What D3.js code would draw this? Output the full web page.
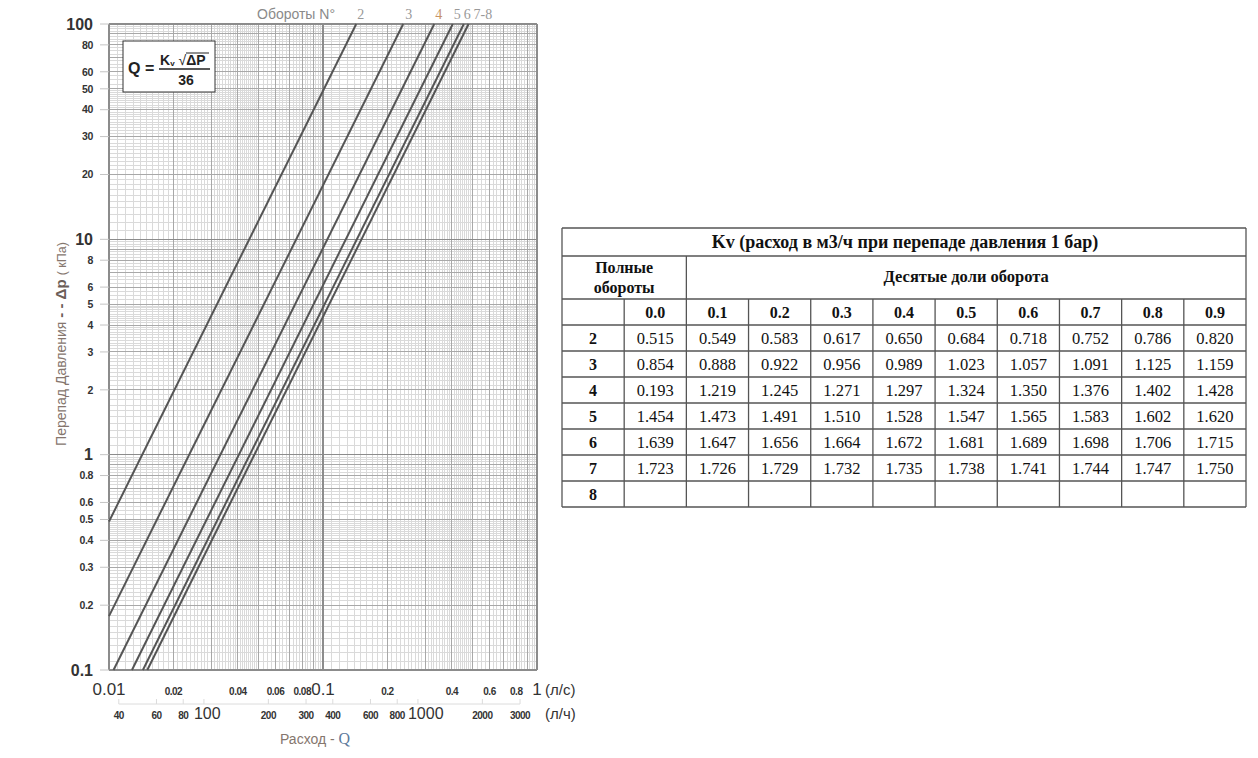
<!DOCTYPE html>
<html>
<head>
<meta charset="utf-8">
<script src="https://cdn.jsdelivr.net/npm/d3@7"></script>
<style>
  body { margin: 0; background: #fff; }
</style>
</head>
<body>
<div id="chart"></div>
<script>
// chart data
var turnLabels = ["2", "3", "4", "5", "6", "7-8"];
// each line: start and end point [Q l/s, dp kPa]
var lineStart = [[0.01, 0.489], [0.01, 0.178], [0.0105, 0.1], [0.0128, 0.1], [0.0144, 0.1], [0.0151, 0.1]];
var lineEnd = [[0.143, 100], [0.237, 100], [0.331, 100], [0.404, 100], [0.455, 100], [0.479, 100]];

var qTicksLs = [0.01, 0.02, 0.04, 0.06, 0.08, 0.1, 0.2, 0.4, 0.6, 0.8, 1];
var qTicksLh = [40, 60, 80, 100, 200, 300, 400, 600, 800, 1000, 2000, 3000];
var dpTicks = [0.1, 0.2, 0.3, 0.4, 0.5, 0.6, 0.8, 1, 2, 3, 4, 5, 6, 8, 10, 20, 30, 40, 50, 60, 80, 100];

// table data
var tableTitle = "Kv (расход в м3/ч при перепаде давления 1 бар)";
var turnRows = ["2", "3", "4", "5", "6", "7", "8"];
var tenthCols = ["0.0", "0.1", "0.2", "0.3", "0.4", "0.5", "0.6", "0.7", "0.8", "0.9"];
var kvRow2 = ["0.515", "0.549", "0.583", "0.617", "0.650", "0.684", "0.718", "0.752", "0.786", "0.820"];
var kvRow3 = ["0.854", "0.888", "0.922", "0.956", "0.989", "1.023", "1.057", "1.091", "1.125", "1.159"];
var kvRow4 = ["0.193", "1.219", "1.245", "1.271", "1.297", "1.324", "1.350", "1.376", "1.402", "1.428"];
var kvRow5 = ["1.454", "1.473", "1.491", "1.510", "1.528", "1.547", "1.565", "1.583", "1.602", "1.620"];
var kvRow6 = ["1.639", "1.647", "1.656", "1.664", "1.672", "1.681", "1.689", "1.698", "1.706", "1.715"];
var kvRow7 = ["1.723", "1.726", "1.729", "1.732", "1.735", "1.738", "1.741", "1.744", "1.747", "1.750"];
var kvRow8 = ["", "", "", "", "", "", "", "", "", ""];

var W = 1258, H = 758;
var sans = "'Liberation Sans', Arial, sans-serif";
var serif = "'Liberation Serif', 'Times New Roman', serif";

var svg = d3.select('#chart')
    .append('svg')
    .attr('width', W)
    .attr('height', H);

svg.append('rect').attr('width', W).attr('height', H).attr('fill', '#fff');

var x = d3.scaleLog().domain([0.01, 1]).range([109, 537]);
var xh = d3.scaleLog().domain([36, 3600]).range([109, 537]);
var y = d3.scaleLog().domain([0.1, 100]).range([670, 24]);

// log paper grid
function gridValues(lo, hi) {
    var minor = [], mid = [], major = [];
    for (var dec = lo; dec < hi * 0.99; dec *= 10) {
        major.push(dec);
        for (var m = 1; m < 10 - 1e-9; ) {
            var step = m < 5 - 1e-9 ? 0.1 : 0.25;
            m = Math.round((m + step) * 100) / 100;
            if (Math.abs(m - Math.round(m)) < 1e-9) {
                if (m < 10) mid.push(dec * m);
            } else {
                minor.push(dec * m);
            }
        }
    }
    major.push(hi);
    return {minor: minor, mid: mid, major: major};
}

var gx = gridValues(0.01, 1);
var gy = gridValues(0.1, 100);
var grid = svg.append('g').attr('shape-rendering', 'crispEdges');

function vlines(vals, color, w) {
    grid.selectAll(null).data(vals).enter().append('line')
        .attr('x1', d => x(d)).attr('x2', d => x(d))
        .attr('y1', y(100)).attr('y2', y(0.1))
        .attr('stroke', color).attr('stroke-width', w);
}
function hlines(vals, color, w) {
    grid.selectAll(null).data(vals).enter().append('line')
        .attr('y1', d => y(d)).attr('y2', d => y(d))
        .attr('x1', x(0.01)).attr('x2', x(1))
        .attr('stroke', color).attr('stroke-width', w);
}
vlines(gx.minor, '#dadada', 1);
hlines(gy.minor, '#dadada', 1);
vlines(gx.mid, '#a8a8a8', 1);
hlines(gy.mid, '#a8a8a8', 1);
vlines(gx.major, '#8c8c8c', 1.5);
hlines(gy.major, '#8c8c8c', 1.5);

// y ticks + labels
svg.selectAll(null).data(dpTicks).enter().append('line')
    .attr('x1', 100).attr('x2', x(0.01))
    .attr('y1', d => y(d)).attr('y2', d => y(d))
    .attr('stroke', '#c4c4c4').attr('stroke-width', 1);

var isDecade = d => Math.abs(Math.log10(d) - Math.round(Math.log10(d))) < 1e-9;

svg.selectAll(null).data(dpTicks).enter().append('text')
    .attr('x', 93)
    .attr('y', d => y(d))
    .attr('dy', '0.36em')
    .attr('text-anchor', 'end')
    .attr('font-family', sans)
    .attr('font-weight', 'bold')
    .attr('font-size', d => isDecade(d) ? 16 : 10.5)
    .attr('letter-spacing', d => isDecade(d) ? 0 : -0.4)
    .attr('fill', '#333')
    .text(d => String(d));

// x labels l/s
svg.selectAll(null).data(qTicksLs).enter().append('text')
    .attr('x', d => x(d))
    .attr('y', 695)
    .attr('text-anchor', 'middle')
    .attr('font-family', sans)
    .attr('font-weight', d => isDecade(d) ? 'normal' : 'bold')
    .attr('font-size', d => isDecade(d) ? 17 : 10)
    .attr('letter-spacing', d => isDecade(d) ? 0 : -0.5)
    .attr('fill', '#333')
    .text(d => String(d));
svg.append('text').attr('x', 545).attr('y', 695)
    .attr('font-family', sans).attr('font-size', 15).attr('fill', '#333')
    .text('(л/с)');

// second axis l/h
svg.append('line')
    .attr('x1', xh(40)).attr('x2', xh(3000))
    .attr('y1', 704).attr('y2', 704)
    .attr('stroke', '#dcdcdc').attr('stroke-width', 1);
svg.selectAll(null).data(qTicksLh).enter().append('line')
    .attr('x1', d => xh(d)).attr('x2', d => xh(d))
    .attr('y1', 699).attr('y2', 704)
    .attr('stroke', '#dcdcdc').attr('stroke-width', 1);
svg.selectAll(null).data(qTicksLh).enter().append('text')
    .attr('x', d => isDecade(d) ? xh(d) - 10 : xh(d))
    .attr('y', 719)
    .attr('text-anchor', d => isDecade(d) ? 'start' : 'middle')
    .attr('font-family', sans)
    .attr('font-weight', d => isDecade(d) ? 'normal' : 'bold')
    .attr('font-size', d => isDecade(d) ? 16 : 10)
    .attr('letter-spacing', d => isDecade(d) ? 0 : -0.5)
    .attr('fill', '#333')
    .text(d => String(d));
svg.append('text').attr('x', 545).attr('y', 719)
    .attr('font-family', sans).attr('font-size', 15).attr('fill', '#333')
    .text('(л/ч)');

// axis titles
var yTitle = svg.append('text')
    .attr('transform', 'translate(66,344) rotate(-90)')
    .attr('text-anchor', 'middle')
    .attr('font-family', sans)
    .attr('fill', '#85766e');
yTitle.append('tspan').attr('font-size', 14).text('Перепад Давления  ');
yTitle.append('tspan').attr('font-size', 15).attr('font-weight', 'bold').attr('fill', '#6b5e58').text('-  - Δp ');
yTitle.append('tspan').attr('font-size', 12.5).text('( кПа)');

var xTitle = svg.append('text')
    .attr('x', 280).attr('y', 744)
    .attr('font-family', sans).attr('font-size', 14).attr('fill', '#85766e');
xTitle.append('tspan').text('Расход -    ');
xTitle.append('tspan').attr('font-family', serif).attr('font-size', 16).attr('fill', '#5d7a9c').text('Q');

// turn lines
svg.selectAll(null).data(turnLabels).enter().append('line')
    .attr('x1', (d, i) => x(lineStart[i][0])).attr('y1', (d, i) => y(lineStart[i][1]))
    .attr('x2', (d, i) => x(lineEnd[i][0])).attr('y2', (d, i) => y(lineEnd[i][1]))
    .attr('stroke', '#555').attr('stroke-width', 2);

// top labels
svg.append('text').attr('x', 257).attr('y', 19)
    .attr('font-family', sans).attr('font-size', 14).attr('fill', '#8a8a8a')
    .text('Обороты N°');
var labelDx = [1, 2, 1, 1, 0, 5];
var labelColor = ['#999', '#999', '#c79364', '#999', '#999', '#999'];
svg.selectAll(null).data(turnLabels).enter().append('text')
    .attr('x', (d, i) => x(lineEnd[i][0]) + labelDx[i])
    .attr('y', 19)
    .attr('font-family', serif).attr('font-size', 14)
    .attr('fill', (d, i) => labelColor[i])
    .text(d => d);

// formula box
var fb = svg.append('g');
fb.append('rect').attr('x', 123).attr('y', 41).attr('width', 92).attr('height', 51)
    .attr('fill', '#fff').attr('stroke', '#333').attr('stroke-width', 1);
fb.append('text').attr('x', 128).attr('y', 74)
    .attr('font-family', sans).attr('font-weight', 'bold').attr('font-size', 16).attr('fill', '#222')
    .text('Q =');
var num = fb.append('text').attr('x', 160).attr('y', 65)
    .attr('font-family', sans).attr('font-weight', 'bold').attr('font-size', 14).attr('fill', '#222');
num.append('tspan').text('K');
num.append('tspan').attr('font-size', 8).attr('dy', 1).text('v');
num.append('tspan').attr('dy', -1).attr('font-weight', 'normal').text(' √');
num.append('tspan').text('ΔP');
fb.append('line').attr('x1', 186).attr('x2', 209).attr('y1', 53).attr('y2', 53)
    .attr('stroke', '#222').attr('stroke-width', 1);
fb.append('line').attr('x1', 159).attr('x2', 210).attr('y1', 69).attr('y2', 69)
    .attr('stroke', '#222').attr('stroke-width', 1.5);
fb.append('text').attr('x', 186).attr('y', 85).attr('text-anchor', 'middle')
    .attr('font-family', sans).attr('font-weight', 'bold').attr('font-size', 14).attr('fill', '#222')
    .text('36');

// table
var kvRows = [kvRow2, kvRow3, kvRow4, kvRow5, kvRow6, kvRow7, kvRow8];
var tx0 = 562, tx1 = 1246;
var col = d3.scaleBand().domain(['turn'].concat(tenthCols)).range([tx0, tx1]);
var row = d3.scaleBand().domain(turnRows).range([325, 507]);
var tb = svg.append('g').attr('font-family', serif).attr('fill', '#111');
var bc = '#555';

function hl(yy, xa, xb) {
    tb.append('line').attr('x1', xa).attr('x2', xb).attr('y1', yy).attr('y2', yy)
        .attr('stroke', bc).attr('stroke-width', 1.3);
}
function vl(xx, ya, yb) {
    tb.append('line').attr('x1', xx).attr('x2', xx).attr('y1', ya).attr('y2', yb)
        .attr('stroke', bc).attr('stroke-width', 1.3);
}
hl(228, tx0, tx1);
hl(256, tx0, tx1);
hl(299, tx0, tx1);
turnRows.forEach(r => hl(row(r), tx0, tx1));
hl(507, tx0, tx1);
vl(tx0, 228, 507);
vl(tx1, 228, 507);
vl(col('0.1'), 256, 507);
vl(col('0.0'), 299, 507);
tenthCols.slice(2).forEach(c => vl(col(c), 299, 507));

tb.append('text').attr('x', (tx0 + tx1) / 2 + 1).attr('y', 248).attr('text-anchor', 'middle')
    .attr('font-weight', 'bold').attr('font-size', 18).text(tableTitle);
tb.append('text').attr('x', col('0.0')).attr('y', 273).attr('text-anchor', 'middle')
    .attr('font-weight', 'bold').attr('font-size', 16).text('Полные');
tb.append('text').attr('x', col('0.0')).attr('y', 293).attr('text-anchor', 'middle')
    .attr('font-weight', 'bold').attr('font-size', 16).text('обороты');
tb.append('text').attr('x', (col('0.1') + tx1) / 2).attr('y', 282).attr('text-anchor', 'middle')
    .attr('font-weight', 'bold').attr('font-size', 16.5).text('Десятые доли оборота');

tb.selectAll(null).data(tenthCols).enter().append('text')
    .attr('x', d => col(d) + col.bandwidth() / 2)
    .attr('y', 318).attr('text-anchor', 'middle')
    .attr('font-weight', 'bold').attr('font-size', 16)
    .text(d => d);

tb.selectAll(null).data(turnRows).enter().append('text')
    .attr('x', col('turn') + col.bandwidth() / 2)
    .attr('y', d => row(d) + row.bandwidth() / 2 + 6)
    .attr('text-anchor', 'middle')
    .attr('font-weight', 'bold').attr('font-size', 16)
    .text(d => d);

kvRows.forEach(function (vals, ri) {
    tb.selectAll(null).data(vals).enter().append('text')
        .attr('x', (d, ci) => col(tenthCols[ci]) + col.bandwidth() / 2)
        .attr('y', row(turnRows[ri]) + row.bandwidth() / 2 + 6)
        .attr('text-anchor', 'middle')
        .attr('font-size', 16.5)
        .text(d => d);
});
</script>
</body>
</html>
